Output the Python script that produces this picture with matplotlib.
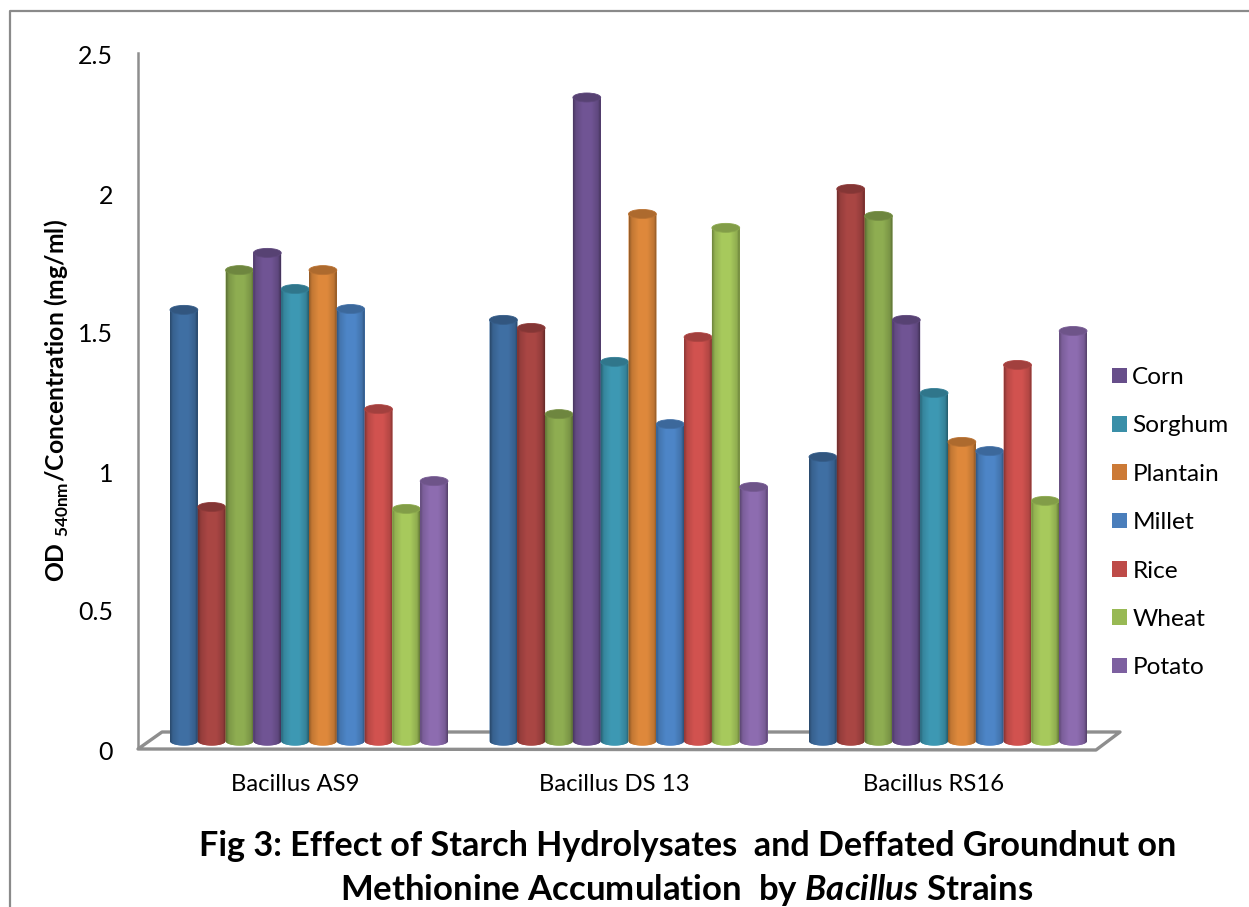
import numpy as np
import matplotlib
matplotlib.use("Agg")
import matplotlib.pyplot as plt
from matplotlib.colors import to_rgb
from matplotlib.patches import Ellipse, Polygon, Patch
from matplotlib.lines import Line2D
from matplotlib.transforms import Affine2D

W, H = 1249, 907
plt.rcParams['font.family'] = ['Lato', 'DejaVu Sans']
plt.rcParams['mathtext.fontset'] = 'custom'
plt.rcParams['mathtext.rm'] = 'Lato'
plt.rcParams['mathtext.bf'] = 'Lato:bold'
plt.rcParams['mathtext.bfit'] = 'Lato:italic:bold'

strains = ['Bacillus AS9', 'Bacillus DS 13', 'Bacillus RS16']
as9 = [1.551, 0.842, 1.694, 1.756, 1.626, 1.694, 1.554, 1.194, 0.835, 0.935]
ds13 = [1.515, 1.486, 1.176, 2.315, 1.364, 1.896, 1.140, 1.453, 1.846, 0.914]
rs16 = [1.022, 1.986, 1.889, 1.515, 1.252, 1.076, 1.043, 1.353, 0.864, 1.475]
bar_colors = ['#3E6C9F', '#A54442', '#8AA84F', '#6D5290', '#3C94AE',
              '#D8853A', '#4B82C2', '#CB504D', '#A3C45A', '#8969AB']
legend_names = ['Corn', 'Sorghum', 'Plantain', 'Millet', 'Rice', 'Wheat', 'Potato']
legend_colors = ['#674E8A', '#3A8FA8', '#CC7A36', '#4A7EBB', '#BE4B48', '#98B954', '#7D60A0']
y_ticks = [0, 0.5, 1, 1.5, 2, 2.5]
y_tick_labels = ['0', '0.5', '1', '1.5', '2', '2.5']

fig = plt.figure(figsize=(W / 100, H / 100), dpi=100, facecolor='white')
px = Affine2D().scale(1 / W, -1 / H).translate(0, 1) + fig.transFigure

left, right, top, bottom = 138, 1096, 53, 748
ax = fig.add_axes([left / W, 1 - bottom / H, (right - left) / W, (bottom - top) / H])
ax.patch.set_alpha(0)

step_px = 319.5
bar_w = 27.8 / step_px
base = 0.025
cap_h = 9.0 / 278
grey = '#8e8e8e'

ax.add_patch(Polygon([(138, 749), (162, 732), (1120, 732), (1096, 750)], closed=True,
                     fill=False, edgecolor=grey, lw=2.4, transform=px,
                     clip_on=False, zorder=0.5, joinstyle='round'))

profile = np.interp(np.linspace(0, 1, 64), [0, 0.10, 0.35, 0.65, 0.90, 1],
                    [0.68, 0.90, 1.03, 1.03, 0.88, 0.62])
z = 2.0
for g, vals in enumerate([as9, ds13, rs16]):
    xs = g + (np.arange(10) - 4.5) * bar_w
    for x, v, c in zip(xs, vals, bar_colors):
        rgb = np.array(to_rgb(c))
        rect = ax.bar(x, v, width=bar_w, bottom=base, color=c, zorder=z)[0]
        x0, w = rect.get_x(), rect.get_width()
        t = np.linspace(np.pi, 2 * np.pi, 40)
        outline = [(x0, base + v)] + [(x + w / 2 * np.cos(a), base + cap_h / 2 * np.sin(a)) for a in t] + [(x0 + w, base + v)]
        shape = Polygon(outline, closed=True, facecolor=c, edgecolor='none', zorder=z)
        ax.add_patch(shape)
        grad = np.clip(profile[None, :, None] * rgb[None, None, :], 0, 1)
        im = ax.imshow(grad, extent=(x0, x0 + w, base - cap_h, base + v), aspect='auto',
                       interpolation='bilinear', zorder=z + 0.1)
        im.set_clip_path(shape)
        ax.add_patch(Ellipse((x, base + v), w, cap_h, facecolor=rgb * 0.8,
                             edgecolor=rgb * 0.86, lw=0.6, zorder=z + 0.2, clip_on=False))
        z += 1

ax.set_xlim((left - 309) / step_px, (right - 309) / step_px)
ax.set_ylim(0, 2.5)
ax.set_yticks(y_ticks)
ax.set_yticklabels(y_tick_labels, fontsize=18)
ax.set_xticks(range(3))
ax.set_xticklabels(strains, fontsize=17.2)
ax.tick_params(axis='y', length=0, pad=18)
ax.tick_params(axis='x', length=0, pad=19)
for tick in ax.yaxis.get_major_ticks():
    tick.label1.set_transform(tick.label1.get_transform() + Affine2D().translate(0, -2))
for tick in ax.xaxis.get_major_ticks():
    tick.label1.set_transform(tick.label1.get_transform() + Affine2D().translate(-14, 0))
for s in ['top', 'right', 'bottom']:
    ax.spines[s].set_visible(False)
ax.spines['left'].set_color(grey)
ax.spines['left'].set_linewidth(1.8)

handles = [Patch(facecolor=c, edgecolor='none') for c in legend_colors]
fig.legend(handles, legend_names, loc='upper left', bbox_to_anchor=(1112 / W, 1 - 367 / H),
           frameon=False, fontsize=17.6, borderpad=0, borderaxespad=0,
           handlelength=0.61, handleheight=0.61, handletextpad=0.22, labelspacing=1.12)

fig.text(57 / W, 1 - 401 / H, r'OD $_{\mathbf{540nm}}$/Concentration (mg/ml)', rotation=90,
         ha='center', va='center', fontsize=17.8, fontweight='bold')
fig.text(688 / W, 1 - 846 / H, 'Fig 3: Effect of Starch Hydrolysates  and Deffated Groundnut on',
         ha='center', va='center', fontsize=24.6, fontweight='bold')
fig.text(686.5 / W, 1 - 890 / H, r'Methionine Accumulation  by $\mathbfit{Bacillus}$ Strains',
         ha='center', va='center', fontsize=25, fontweight='bold')

fig.add_artist(Line2D([10, 10, W], [H, 11, 11], color='#8a8a8a', lw=1.6, transform=px))

fig.savefig('out.png', dpi=100)
